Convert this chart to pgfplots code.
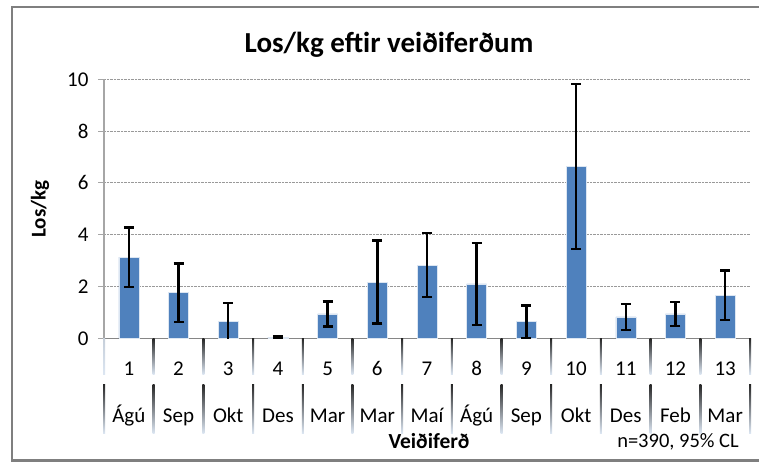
\documentclass[border=0pt]{standalone}
\usepackage{pgfplots}
\pgfplotsset{compat=1.18}
\usepackage{pgfplotstable}
\usepackage{fontspec}
\setmainfont{Carlito}
\definecolor{barblue}{HTML}{4F81BD}
\definecolor{axgray}{HTML}{868686}
\definecolor{ygray}{HTML}{A6A6A6}
\definecolor{sepblue}{HTML}{DCE6F2}
\definecolor{framegray}{HTML}{7F7F7F}

\pgfplotstableread{
x y err
1 3.13 1.15
2 1.76 1.13
3 0.64 0.72
4 0.04 0.04
5 0.94 0.48
6 2.17 1.60
7 2.83 1.23
8 2.10 1.58
9 0.64 0.62
10 6.63 3.18
11 0.83 0.50
12 0.94 0.47
13 1.66 0.96
}\datatable

\begin{document}
\begin{tikzpicture}[x=1pt,y=1pt]
\useasboundingbox (0,0) rectangle (759,463);
\draw[line width=2.5pt, color=framegray] (12,2.5) rectangle (768,456);
\node[font=\fontsize{29}{34}\selectfont\bfseries] at (389,418) {Los/kg eftir veiðiferðum};
\node[font=\fontsize{21}{25}\selectfont\bfseries, rotate=90] at (40,254) {Los/kg};
\node[font=\fontsize{21.5}{25}\selectfont\bfseries] at (429,22) {Veiðiferð};
\node[font=\fontsize{20.5}{24}\selectfont] at (678,21) {n=390, 95\% CL};
\begin{axis}[
  at={(104pt,124.7pt)}, anchor=south west,
  scale only axis, width=646pt, height=259pt,
  xmin=0.5, xmax=13.5, ymin=0, ymax=10,
  clip mode=individual,
  axis x line*=bottom, axis y line*=left,
  x axis line style={axgray, line width=1.2pt},
  y axis line style={ygray, line width=1.2pt},
  ytick={0,2,...,10},
  xtick={1,...,13},
  major tick length=6pt,
  x tick style={draw=none},
  ytick align=outside,
  y tick style={ygray, line width=1pt},
  ymajorgrids,
  grid style={densely dotted, gray!80, line width=0.8pt},
  /pgf/number format/assume math mode=true,
  tick label style={font=\fontsize{21}{25}\selectfont},
  xticklabel style={anchor=base, yshift=-37pt},
  extra x ticks={1,...,13},
  extra x tick labels={Ágú,Sep,Okt,Des,Mar,Mar,Maí,Ágú,Sep,Okt,Des,Feb,Mar},
  extra x tick style={xticklabel style={yshift=-47pt}},
  yticklabel style={anchor=east, xshift=-6pt},
]
\addplot[ybar, bar width=20pt, fill=barblue, draw=white!80!barblue, line width=0.5pt,
  error bars/.cd, y dir=both, y explicit,
  error bar style={black, line width=2.4pt},
  error mark options={rotate=90, mark size=5pt, line width=2.4pt, black}]
  table[x=x, y=y, y error=err] {\datatable};
\pgfplotsinvokeforeach{0.5,1.5,...,13.5}{
  \shade[top color=black!85, middle color=gray!60, bottom color=sepblue]
    ([xshift=-1pt]axis cs:#1,0) rectangle ([xshift=1pt,yshift=-36pt]axis cs:#1,0);
  \shade[top color=black!85, middle color=gray!60, bottom color=sepblue]
    ([xshift=-1pt,yshift=-46pt]axis cs:#1,0) rectangle ([xshift=1pt,yshift=-95pt]axis cs:#1,0);
}
\end{axis}
\end{tikzpicture}
\end{document}
